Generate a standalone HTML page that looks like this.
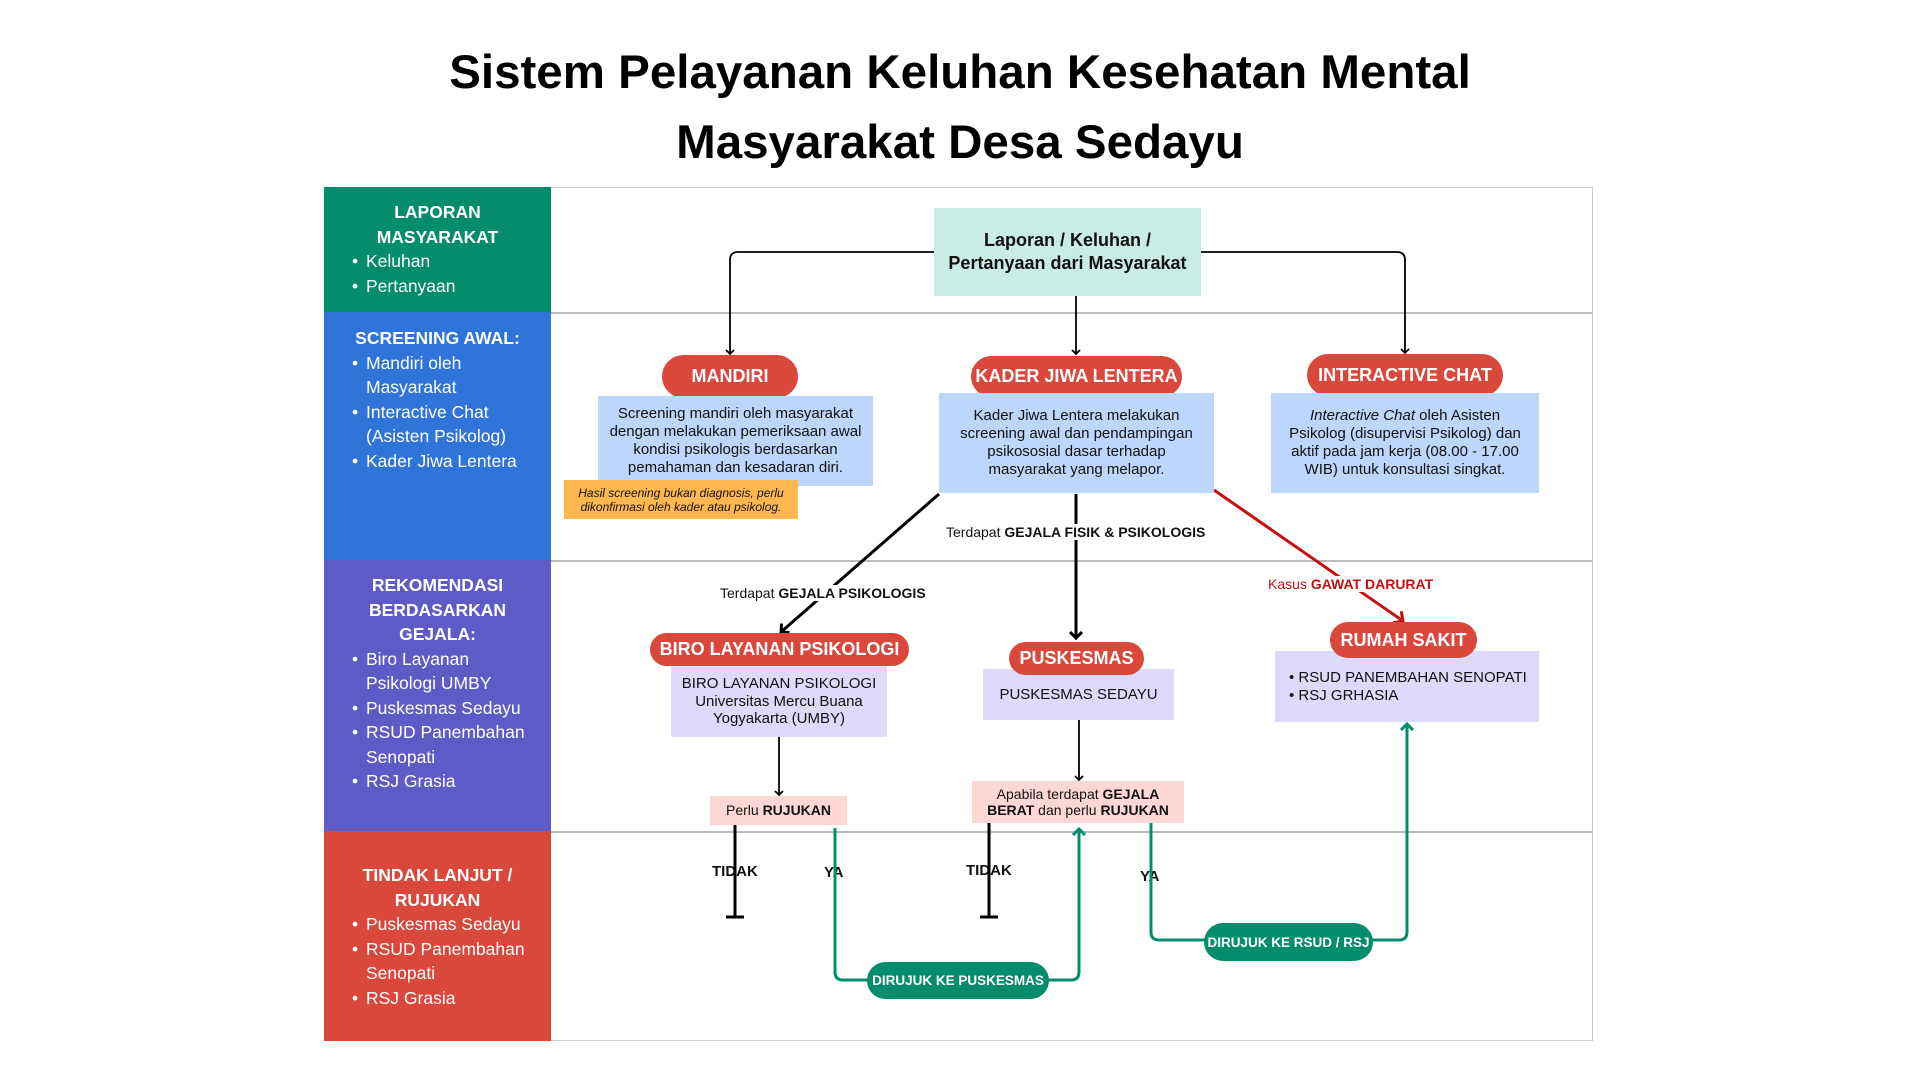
<!DOCTYPE html>
<html><head><meta charset="utf-8"><style>
*{margin:0;padding:0;box-sizing:border-box}
body{width:1920px;height:1080px;background:#fff;position:relative;overflow:hidden;font-family:"Liberation Sans",sans-serif;color:#111}
.a{position:absolute}
h1{position:absolute;left:0;width:1920px;text-align:center;font-size:47.5px;font-weight:bold;line-height:70px;top:38px;color:#000;letter-spacing:0px}
.row{position:absolute;left:324px;width:227px;color:#fff;font-size:17.5px;line-height:24.5px}
.row .h{font-weight:bold;text-align:center}
.row ul{list-style:none;padding-left:42px;padding-right:14px}
.row li{position:relative}
.row li:before{content:"•";position:absolute;left:-14px}
.pill{position:absolute;background:#d9483b;color:#fff;font-weight:bold;font-size:18px;border-radius:22px;display:flex;align-items:center;justify-content:center;white-space:nowrap;z-index:2}
.box{position:absolute;font-size:15px;line-height:17.8px;text-align:center;display:flex;align-items:center;justify-content:center;flex-direction:column}
.blue{background:#bcd7fb}
.lav{background:#dedafc}
.pink{background:#fdd7d3}
.lbl{position:absolute;font-size:14px;white-space:nowrap;background:#fff;padding:0 2px}
.gp{position:absolute;background:#048c6b;color:#fff;font-weight:bold;font-size:13.5px;border-radius:20px;display:flex;align-items:center;justify-content:center;white-space:nowrap}
</style></head><body>
<h1>Sistem Pelayanan Keluhan Kesehatan Mental<br>Masyarakat Desa Sedayu</h1>

<div class="a" style="left:324px;top:187px;width:1269px;height:854px;border:1.5px solid #ccc"></div>
<div class="a" style="left:551px;top:312px;width:1042px;height:1.5px;background:#bbb"></div>
<div class="a" style="left:551px;top:560px;width:1042px;height:1.5px;background:#bbb"></div>
<div class="a" style="left:551px;top:831px;width:1042px;height:1.5px;background:#bbb"></div>

<div class="row" style="top:187px;height:125px;background:#048c6b;padding-top:13px">
<div class="h">LAPORAN<br>MASYARAKAT</div><ul><li>Keluhan</li><li>Pertanyaan</li></ul></div>
<div class="row" style="top:312px;height:248px;background:#2f74d9;padding-top:14px">
<div class="h">SCREENING AWAL:</div><ul><li>Mandiri oleh Masyarakat</li><li>Interactive Chat (Asisten Psikolog)</li><li>Kader Jiwa Lentera</li></ul></div>
<div class="row" style="top:560px;height:271px;background:#5f5bc6;padding-top:13px">
<div class="h">REKOMENDASI<br>BERDASARKAN<br>GEJALA:</div><ul><li>Biro Layanan<br>Psikologi UMBY</li><li>Puskesmas Sedayu</li><li>RSUD Panembahan Senopati</li><li>RSJ Grasia</li></ul></div>
<div class="row" style="top:831px;height:210px;background:#d9483b;padding-top:32px">
<div class="h">TINDAK LANJUT /<br>RUJUKAN</div><ul><li>Puskesmas Sedayu</li><li>RSUD Panembahan Senopati</li><li>RSJ Grasia</li></ul></div>

<svg class="a" style="left:0;top:0;z-index:1" width="1920" height="1080">
<defs>
<marker id="ak" markerWidth="10" markerHeight="10" refX="5" refY="5" orient="auto" markerUnits="userSpaceOnUse"><path d="M1,1 L5,5 L1,9" fill="none" stroke="#000" stroke-width="1.8"/></marker>
<marker id="ar" markerWidth="16" markerHeight="16" refX="8" refY="8" orient="auto" markerUnits="userSpaceOnUse"><path d="M1,1 L8,8 L1,15" fill="none" stroke="#c41010" stroke-width="3"/></marker>
<marker id="ag" markerWidth="14" markerHeight="14" refX="7" refY="7" orient="auto" markerUnits="userSpaceOnUse"><path d="M1,1 L7,7 L1,13" fill="none" stroke="#048c6b" stroke-width="3"/></marker>
<marker id="ab" markerWidth="14" markerHeight="14" refX="7" refY="7" orient="auto" markerUnits="userSpaceOnUse"><path d="M1,1 L7,7 L1,13" fill="none" stroke="#000" stroke-width="3"/></marker>
</defs>
<g fill="none" stroke="#000" stroke-width="1.8">
<path d="M934,252 H738 Q730,252 730,260 V354" marker-end="url(#ak)"/>
<path d="M1201,252 H1397 Q1405,252 1405,260 V353" marker-end="url(#ak)"/>
<path d="M1076,296 V354" marker-end="url(#ak)"/>
<path d="M779,737 V795" marker-end="url(#ak)"/>
<path d="M1079,720 V780" marker-end="url(#ak)"/>
</g>
<g fill="none" stroke="#000" stroke-width="3">
<path d="M939,494 L781,632" marker-end="url(#ab)"/>
<path d="M1076,494 V638" marker-end="url(#ab)"/>
<path d="M735,825 V917 M726,917 H744"/>
<path d="M989,823 V917 M980,917 H998"/>
</g>
<path d="M1214,490 L1403,621" stroke="#c41010" stroke-width="3" fill="none" marker-end="url(#ar)"/>
<g fill="none" stroke="#048c6b" stroke-width="3">
<path d="M835,828 V972 Q835,980 843,980 H1071 Q1079,980 1079,972 V829" marker-end="url(#ag)"/>
<path d="M1151,823 V932 Q1151,940 1159,940 H1399 Q1407,940 1407,932 V724" marker-end="url(#ag)"/>
</g>
</svg>

<div class="box" style="left:934px;top:208px;width:267px;height:88px;background:#c9ede4;font-weight:bold;font-size:18px;line-height:23px;z-index:2">Laporan / Keluhan /<br>Pertanyaan dari Masyarakat</div>

<div class="pill" style="left:662px;top:355px;width:136px;height:43px">MANDIRI</div>
<div class="box blue" style="left:598px;top:396px;width:275px;height:90px;z-index:2">Screening mandiri oleh masyarakat<br>dengan melakukan pemeriksaan awal<br>kondisi psikologis berdasarkan<br>pemahaman dan kesadaran diri.</div>
<div class="box" style="left:564px;top:480px;width:234px;height:39px;background:#ffb84f;font-style:italic;font-size:12px;line-height:14px;z-index:3">Hasil screening bukan diagnosis, perlu<br>dikonfirmasi oleh kader atau psikolog.</div>

<div class="pill" style="left:971px;top:356px;width:211px;height:41px">KADER JIWA LENTERA</div>
<div class="box blue" style="left:939px;top:393px;width:275px;height:100px;z-index:2">Kader Jiwa Lentera melakukan<br>screening awal dan pendampingan<br>psikososial dasar terhadap<br>masyarakat yang melapor.</div>

<div class="pill" style="left:1307px;top:354px;width:196px;height:42px">INTERACTIVE CHAT</div>
<div class="box blue" style="left:1271px;top:393px;width:268px;height:100px;z-index:2"><span><i>Interactive Chat</i> oleh Asisten</span>Psikolog (disupervisi Psikolog) dan<br>aktif pada jam kerja (08.00 - 17.00<br>WIB) untuk konsultasi singkat.</div>

<div class="lbl" style="left:944px;top:524px;z-index:3">Terdapat <b>GEJALA FISIK &amp; PSIKOLOGIS</b></div>
<div class="lbl" style="left:718px;top:585px;z-index:3">Terdapat <b>GEJALA PSIKOLOGIS</b></div>
<div class="lbl" style="left:1266px;top:576px;color:#c41010;z-index:3">Kasus <b>GAWAT DARURAT</b></div>

<div class="pill" style="left:650px;top:633px;width:259px;height:33px">BIRO LAYANAN PSIKOLOGI</div>
<div class="box lav" style="left:671px;top:666px;width:216px;height:71px">BIRO LAYANAN PSIKOLOGI<br>Universitas Mercu Buana<br>Yogyakarta (UMBY)</div>

<div class="pill" style="left:1009px;top:642px;width:135px;height:33px">PUSKESMAS</div>
<div class="box lav" style="left:983px;top:669px;width:191px;height:51px">PUSKESMAS SEDAYU</div>

<div class="pill" style="left:1330px;top:622px;width:147px;height:36px">RUMAH SAKIT</div>
<div class="box lav" style="left:1275px;top:651px;width:264px;height:71px;align-items:flex-start;justify-content:flex-start;padding:18px 0 0 14px;text-align:left;line-height:18px">• RSUD PANEMBAHAN SENOPATI<br>• RSJ GRHASIA</div>

<div class="box pink" style="left:710px;top:796px;width:137px;height:29px;font-size:14px">
<span>Perlu <b>RUJUKAN</b></span></div>
<div class="box pink" style="left:972px;top:781px;width:212px;height:42px;font-size:14px;line-height:16px"><span>Apabila terdapat <b>GEJALA</b></span><span><b>BERAT</b> dan perlu <b>RUJUKAN</b></span></div>

<div class="lbl" style="left:710px;top:863px;font-weight:bold;font-size:15px">TIDAK</div>
<div class="lbl" style="left:822px;top:864px;font-weight:bold;font-size:15px">YA</div>
<div class="lbl" style="left:964px;top:862px;font-weight:bold;font-size:15px">TIDAK</div>
<div class="lbl" style="left:1138px;top:868px;font-weight:bold;font-size:15px">YA</div>

<div class="gp" style="left:867px;top:962px;width:182px;height:37px;z-index:2">DIRUJUK KE PUSKESMAS</div>
<div class="gp" style="left:1204px;top:923px;width:169px;height:38px;z-index:2">DIRUJUK KE RSUD / RSJ</div>
</body></html>
